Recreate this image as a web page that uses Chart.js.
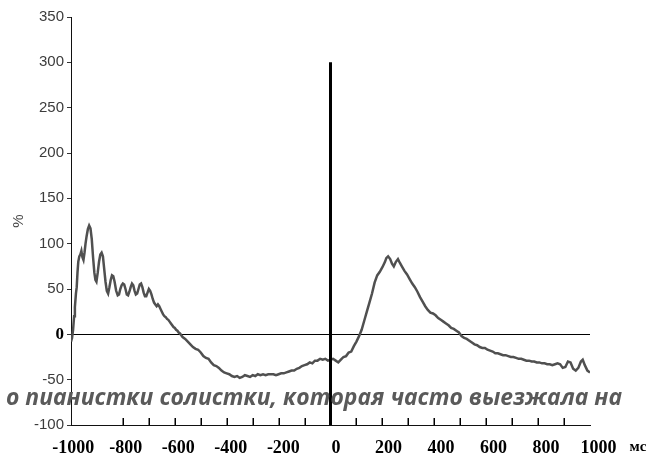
<!DOCTYPE html>
<html>
<head>
<meta charset="utf-8">
<script src="https://cdn.jsdelivr.net/npm/chart.js@4.4.1/dist/chart.umd.min.js"></script>
<style>
  html, body { margin: 0; padding: 0; background: #fff; }
</style>
</head>
<body>
<canvas id="chart" width="652" height="458"></canvas>
<script>
'use strict';

// time from event, ms
var timeMs = [
  -1000, -996, -992, -988, -985, -981, -978, -975, -972, -968, -964, -960, -956, -952, -948, -944,
  -940, -935, -930, -925, -920, -915, -910, -906, -902, -897, -892, -887, -882, -877, -872, -867,
  -862, -857, -852, -847, -842, -837, -832, -826, -820, -815, -810, -805, -800, -795, -790, -785,
  -780, -775, -770, -765, -760, -755, -750, -745, -740, -735, -730, -725, -720, -715, -710, -705,
  -700, -695, -690, -685, -680, -675, -670, -665, -660, -655, -650, -645, -640, -635, -630, -625,
  -620, -615, -610, -605, -600, -595, -590, -585, -580, -575, -570, -560, -550, -540, -530, -520,
  -510, -500, -490, -480, -470, -460, -450, -440, -430, -420, -410, -400, -390, -380, -370, -360,
  -350, -340, -330, -320, -310, -300, -290, -280, -270, -260, -250, -240, -230, -220, -210, -200,
  -190, -180, -170, -160, -150, -140, -130, -120, -110, -100, -90, -80, -70, -60, -50, -40,
  -30, -20, -10, 0, 10, 20, 30, 40, 50, 60, 70, 80, 90, 100, 110, 120,
  130, 140, 150, 160, 170, 180, 190, 200, 210, 215, 222, 230, 237, 244, 252, 260,
  267, 275, 285, 295, 305, 315, 325, 335, 345, 355, 365, 375, 385, 395, 405, 415,
  425, 435, 445, 455, 465, 475, 485, 495, 505, 515, 525, 535, 545, 555, 565, 575,
  585, 595, 605, 615, 625, 635, 645, 655, 665, 675, 685, 695, 705, 715, 725, 735,
  745, 755, 765, 775, 785, 795, 805, 815, 825, 835, 845, 855, 865, 875, 885, 895,
  905, 915, 925, 935, 945, 955, 965, 972, 980, 990, 1000
];

// percent
var percent = [
  -8, -4, 5, 20, 30, 45, 52, 68, 80, 86, 88, 92, 85, 82, 90, 100,
  108, 116, 120, 117, 105, 85, 68, 60, 58, 68, 80, 88, 90, 86, 72, 58,
  48, 45, 52, 60, 65, 64, 58, 48, 43, 44, 50, 54, 56, 55, 50, 44,
  43, 47, 52, 56, 54, 48, 44, 45, 50, 55, 56, 52, 46, 42, 42, 46,
  50, 48, 44, 39, 35, 33, 31, 33, 31, 28, 25, 22, 20, 19, 17, 16,
  14, 12, 10, 8, 7, 5, 4, 2, 1, -1, -3, -5, -8, -11, -14, -16,
  -17, -20, -24, -26, -27, -31, -34, -35, -37, -40, -42, -43, -44, -46, -47, -46,
  -48, -47, -45, -46, -47, -45, -46, -44, -45, -44, -45, -44, -44, -44, -45, -44,
  -43, -43, -42, -41, -40, -40, -38, -37, -35, -34, -33, -31, -32, -29, -29, -27,
  -28, -27, -29, -28, -27, -29, -31, -28, -25, -24, -20, -19, -13, -8, -2, 5,
  15, 25, 35, 45, 57, 65, 69, 74, 80, 84, 86, 83, 78, 75, 80, 83,
  79, 75, 70, 66, 61, 56, 52, 47, 41, 36, 31, 27, 24, 23, 21, 18,
  16, 14, 12, 10, 7, 6, 4, 2, -2, -4, -5, -7, -9, -11, -12, -14,
  -15, -15, -17, -18, -19, -21, -21, -22, -23, -23, -24, -25, -25, -26, -27, -27,
  -28, -29, -29, -30, -30, -31, -31, -32, -32, -33, -33, -34, -33, -32, -33, -37,
  -36, -30, -31, -38, -40, -37, -30, -28, -34, -40, -42
];

// vertical marker at the event
var markerMs = 0;
var markerRange = [300, -100];

// axis labels
var xLabelValues = [-1000, -800, -600, -400, -200, 0, 200, 400, 600, 800, 1000];
var unitLabel = 'мс';
var xMinorTicks = [-800, -700, -600, -500, -400, -300, -200, -100, 100, 200, 300, 400, 500, 600, 700, 800, 900];
var yTitle = '%';
var captionText = 'о пианистки солистки, которая часто выезжала на';

// the printed labels sit a little off the plotted axis, so they get their own scale
var labelMin = -1008.5;
var labelMax = 967.3;
var unitPos = 1150;

var points = timeMs.map(function(t, i){ return {x: t, y: percent[i]}; });
var marker = markerRange.map(function(v){ return {x: markerMs, y: v}; });

// small tick marks pointing up into the plot
var innerTicks = {
  id: 'innerTicks',
  afterDraw: function(chart){
    var c = chart.ctx;
    var xs = chart.scales.x;
    var bottom = chart.chartArea.bottom;
    c.save();
    c.fillStyle = '#000';
    xMinorTicks.forEach(function(v){
      var px = Math.round(xs.getPixelForValue(v));
      c.fillRect(px - 0.5, bottom - 7, 1.5, 7);
    });
    c.restore();
  }
};

// the grey caption running across the lower part of the picture
var caption = {
  id: 'caption',
  afterDraw: function(chart){
    var c = chart.ctx;
    c.save();
    c.font = 'italic bold 24px "Open Sans"';
    c.fillStyle = '#5a5a5a';
    c.textBaseline = 'alphabetic';
    var w = c.measureText(captionText).width;
    c.translate(6, 405);
    c.scale(616 / w, 1);
    c.fillText(captionText, 0, 0);
    c.restore();
  }
};

var ctx = document.getElementById('chart').getContext('2d');
new Chart(ctx, {
  type: 'line',
  data: {
    datasets: [{
      data: marker,
      borderColor: '#000',
      borderWidth: 3,
      pointRadius: 0,
      xAxisID: 'x',
      yAxisID: 'y'
    }, {
      data: points,
      borderColor: '#505050',
      borderWidth: 2.5,
      pointRadius: 0,
      tension: 0,
      xAxisID: 'x',
      yAxisID: 'y'
    }]
  },
  options: {
    responsive: false,
    animation: false,
    layout: { padding: { top: 17, right: 62, left: 0, bottom: 0 } },
    plugins: { legend: { display: false }, tooltip: { enabled: false } },
    scales: {
      x: {
        type: 'linear',
        min: -1000,
        max: 1000,
        display: false
      },
      xl: {
        type: 'linear',
        position: 'bottom',
        min: labelMin,
        max: labelMax,
        grid: { display: false, drawTicks: false },
        border: { display: true, color: '#111', width: 1 },
        afterBuildTicks: function(scale){
          var t = xLabelValues.map(function(v){ return {value: v}; });
          t.push({value: unitPos});
          scale.ticks = t;
        },
        afterFit: function(scale){
          scale.height = 33;
          scale.paddingLeft = 0;
          scale.paddingRight = 0;
        },
        ticks: {
          autoSkip: false,
          maxRotation: 0,
          padding: 13,
          color: '#000',
          font: function(c){
            if (c.tick && c.tick.value === unitPos) {
              return { family: 'Liberation Serif', size: 15, weight: 'bold' };
            }
            return { family: 'Liberation Serif', size: 18, weight: 'bold' };
          },
          callback: function(v){
            return v === unitPos ? unitLabel : String(v);
          }
        }
      },
      y: {
        min: -100,
        max: 350,
        grid: {
          drawOnChartArea: true,
          color: function(c){ return c.tick && c.tick.value === 0 ? '#000' : 'rgba(0,0,0,0)'; },
          tickColor: '#333',
          tickLength: 4,
          lineWidth: 1
        },
        border: { display: true, color: '#111', width: 1 },
        afterFit: function(scale){
          scale.width = 71;
          scale.paddingTop = 0;
          scale.paddingBottom = 0;
        },
        title: {
          display: true,
          text: yTitle,
          color: '#444',
          font: { family: 'Liberation Sans', size: 15 },
          padding: { top: 10, bottom: 0 }
        },
        ticks: {
          stepSize: 50,
          padding: 3,
          color: function(c){ return c.tick && c.tick.value === 0 ? '#000' : '#3c3c3c'; },
          font: function(c){
            if (c.tick && c.tick.value === 0) {
              return { family: 'Liberation Serif', size: 17, weight: 'bold' };
            }
            return { family: 'Liberation Sans', size: 15 };
          }
        }
      }
    }
  },
  plugins: [innerTicks, caption]
});
</script>
</body>
</html>
